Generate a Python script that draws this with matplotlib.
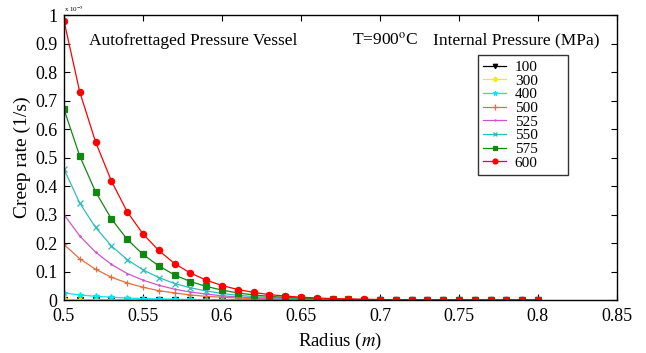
import numpy as np
import matplotlib.pyplot as plt

plt.rcParams['font.family'] = ['Liberation Serif', 'DejaVu Serif']
plt.rcParams['mathtext.fontset'] = 'stix'

# radius (m), one point every 0.01 from 0.50 to 0.80
radius = [0.50, 0.51, 0.52, 0.53, 0.54, 0.55, 0.56, 0.57, 0.58, 0.59, 0.60,
          0.61, 0.62, 0.63, 0.64, 0.65, 0.66, 0.67, 0.68, 0.69, 0.70,
          0.71, 0.72, 0.73, 0.74, 0.75, 0.76, 0.77, 0.78, 0.79, 0.80]

# creep rate, in units of 1e-5 1/s
p100 = [0.0002, 0.0001, 0.0001, 0.0001, 0.0, 0.0, 0.0, 0.0, 0.0, 0.0, 0.0,
        0.0, 0.0, 0.0, 0.0, 0.0, 0.0, 0.0, 0.0, 0.0, 0.0,
        0.0, 0.0, 0.0, 0.0, 0.0, 0.0, 0.0, 0.0, 0.0, 0.0]
p300 = [0.002, 0.0015, 0.001, 0.0008, 0.0006, 0.0004, 0.0003, 0.0002, 0.0002, 0.0001, 0.0001,
        0.0001, 0.0, 0.0, 0.0, 0.0, 0.0, 0.0, 0.0, 0.0, 0.0,
        0.0, 0.0, 0.0, 0.0, 0.0, 0.0, 0.0, 0.0, 0.0, 0.0]
p400 = [0.025, 0.018, 0.013, 0.010, 0.007, 0.005, 0.004, 0.003, 0.002, 0.0015, 0.001,
        0.0008, 0.0006, 0.0004, 0.0003, 0.0002, 0.0002, 0.0001, 0.0001, 0.0, 0.0,
        0.0, 0.0, 0.0, 0.0, 0.0, 0.0, 0.0, 0.0, 0.0, 0.0]
p500 = [0.195, 0.145, 0.108, 0.080, 0.060, 0.045, 0.033, 0.025, 0.018, 0.013, 0.010,
        0.007, 0.005, 0.004, 0.003, 0.002, 0.0015, 0.001, 0.0008, 0.0006, 0.0004,
        0.0003, 0.0002, 0.0002, 0.0001, 0.0001, 0.0, 0.0, 0.0, 0.0, 0.0]
p525 = [0.300, 0.225, 0.168, 0.125, 0.093, 0.070, 0.052, 0.038, 0.028, 0.021, 0.015,
        0.011, 0.008, 0.006, 0.0045, 0.003, 0.0024, 0.0018, 0.0013, 0.001, 0.0007,
        0.0005, 0.0004, 0.0003, 0.0002, 0.0002, 0.0001, 0.0001, 0.0, 0.0, 0.0]
p550 = [0.460, 0.340, 0.255, 0.190, 0.142, 0.106, 0.079, 0.058, 0.043, 0.032, 0.023,
        0.017, 0.012, 0.009, 0.0065, 0.0048, 0.0035, 0.0026, 0.0019, 0.0014, 0.001,
        0.0007, 0.0005, 0.0004, 0.0003, 0.0002, 0.0002, 0.0001, 0.0001, 0.0, 0.0]
p575 = [0.670, 0.505, 0.380, 0.285, 0.213, 0.160, 0.120, 0.088, 0.065, 0.048, 0.035,
        0.025, 0.018, 0.013, 0.0095, 0.007, 0.005, 0.0036, 0.0026, 0.0019, 0.0014,
        0.001, 0.0007, 0.0005, 0.0004, 0.0003, 0.0002, 0.0001, 0.0001, 0.0001, 0.0]
p600 = [0.980, 0.730, 0.555, 0.418, 0.310, 0.232, 0.174, 0.128, 0.095, 0.070, 0.051,
        0.037, 0.027, 0.019, 0.014, 0.010, 0.0072, 0.0052, 0.0037, 0.0027, 0.0019,
        0.0014, 0.001, 0.0007, 0.0005, 0.0004, 0.0003, 0.0002, 0.0001, 0.0001, 0.0001]

labels = ['100', '300', '400', '500', '525', '550', '575', '600']
series = [p100, p300, p400, p500, p525, p550, p575, p600]
colors = ['black', '#f0f000', '#00e8f0', '#e07040', '#cc55cc', '#33bbbb', '#118811', '#ff0000']
markers = ['v', 'D', '*', '+', '.', 'x', 's', 'o']
msizes = [4, 3, 4, 5, 2, 4, 4, 4.5]

fig = plt.figure(figsize=(6.46, 3.53), dpi=100)
ax = fig.add_axes([0.099, 0.150, 0.856, 0.8075])

for y, lab, c, m, ms in zip(series, labels, colors, markers, msizes):
    ax.plot(radius, y, color=c, marker=m, markersize=ms, linewidth=0.9, label=lab,
            markeredgewidth=0.9)

ax.set_xlim(0.5, 0.85)
ax.set_ylim(0, 1)
ax.set_xticks([0.5, 0.55, 0.6, 0.65, 0.7, 0.75, 0.8, 0.85])
ax.set_xticklabels(['0.5', '0.55', '0.6', '0.65', '0.7', '0.75', '0.8', '0.85'])
ax.set_yticks(np.arange(0, 1.01, 0.1))
ax.set_yticklabels(['0', '0.1', '0.2', '0.3', '0.4', '0.5', '0.6', '0.7', '0.8', '0.9', '1'])
ax.tick_params(direction='in', top=True, right=True, labelsize=13, length=4, width=0.8, pad=4.5)
ax.tick_params(axis='x', pad=6)
for s in ax.spines.values():
    s.set_linewidth(1.0)

ax.set_xlabel('Radius ($m$)', fontsize=13.5, labelpad=4)
ax.set_ylabel('Creep rate (1/s)', fontsize=14, labelpad=3)

ax.text(0.0, 1.005, r'x 10$^{-5}$', transform=ax.transAxes, fontsize=5, va='bottom', ha='left')
ax.text(0.045, 0.91, 'Autofrettaged Pressure Vessel', transform=ax.transAxes, fontsize=12.5,
        va='center')
ax.text(0.52, 0.91, r'T=900$^{\rm o}$C', transform=ax.transAxes, fontsize=12.5, va='center')
ax.text(0.667, 0.91, 'Internal Pressure (MPa)', transform=ax.transAxes, fontsize=12.5,
        va='center')

leg = ax.legend(loc='upper left', bbox_to_anchor=(0.749, 0.86, 0.163, 0.0), mode='expand',
                fontsize=11, frameon=True, fancybox=False, edgecolor='black',
                handlelength=1.45, labelspacing=0.0, borderpad=0.35, handletextpad=0.6,
                borderaxespad=0, markerscale=0.8)
leg.get_frame().set_linewidth(1.0)

fig.savefig('out.png', dpi=100)
